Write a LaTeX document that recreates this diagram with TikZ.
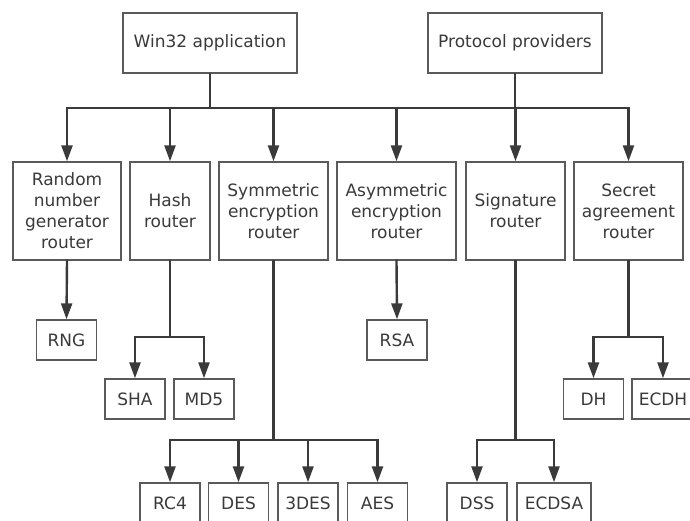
\documentclass[tikz,border=0pt]{standalone}
\usepackage{fontspec}
\setmainfont{DejaVu Sans}
\usetikzlibrary{arrows.meta}
\definecolor{boxgray}{HTML}{5A5A5A}
\definecolor{inkgray}{HTML}{3A3A3A}

\begin{document}
\begin{tikzpicture}[
  x=1pt, y=-1pt,
  box/.style={draw=boxgray, line width=1.4pt, fill=white, inner sep=0pt, align=center, text=inkgray, font=\fontsize{17}{21}\selectfont},
  source/.style={box, minimum width=174pt, minimum height=60pt},
  router/.style={box, minimum height=98pt},
  algo/.style={box, minimum width=60pt, minimum height=40pt},
  link/.style={line width=2.4pt, draw=inkgray, line cap=rect},
  arrow/.style={link, -{Triangle[length=16pt, width=11pt]}}
  ]

  \useasboundingbox (0,0) rectangle (690,520);
  \clip (0,0) rectangle (690,520);

  % Sources
  \node[source] (win32) at (210,43) {Win32 application};
  \node[source] (proto) at (515,43) {Protocol providers};

  % Routers
  \node[router, minimum width=108pt] (rngr) at (67,211) {Random\\number\\generator\\router};
  \node[router, minimum width=80pt] (hashr) at (170,211) {Hash\\router};
  \node[router, minimum width=109pt] (symr) at (273.5,211) {Symmetric\\encryption\\router};
  \node[router, minimum width=119pt] (asymr) at (396.5,211) {Asymmetric\\encryption\\router};
  \node[router, minimum width=99pt] (sigr) at (515.5,211) {Signature\\router};
  \node[router, minimum width=109pt] (secr) at (628.5,211) {Secret\\agreement\\router};

  % Algorithms
  \node[algo] (rng) at (66.5,340) {RNG};
  \node[algo] (rsa) at (397,340) {RSA};
  \node[algo] (sha) at (135,399) {SHA};
  \node[algo] (md5) at (204,399) {MD5};
  \node[algo] (dh) at (593.5,399) {DH};
  \node[algo, minimum width=62pt] (ecdh) at (663,399) {ECDH};
  \node[algo] (rc4) at (170,503) {RC4};
  \node[algo] (des) at (238.5,503) {DES};
  \node[algo] (tdes) at (308,503) {3DES};
  \node[algo] (aes) at (377.5,503) {AES};
  \node[algo] (dss) at (477,503) {DSS};
  \node[algo, minimum width=74pt] (ecdsa) at (554,503) {ECDSA};

  % Buses
  \coordinate (topbus) at (0,108);
  \coordinate (midbus) at (0,337);
  \coordinate (lowbus) at (0,440);

  % Sources to routers
  \draw[link] (win32.south) -- (win32.south |- topbus);
  \draw[link] (proto.south) -- (proto.south |- topbus);
  \draw[link] (rngr.north |- topbus) -- (secr.north |- topbus);
  \foreach \r in {rngr,hashr,symr,asymr,sigr,secr}
    \draw[arrow] (\r.north |- topbus) -- (\r.north);

  % Routers to algorithms
  \draw[arrow] (rngr.south) -- (rng.north);
  \draw[arrow] (asymr.south) -- (rsa.north);

  \draw[link] (hashr.south) -- (hashr.south |- midbus);
  \draw[link] (sha.north |- midbus) -- (md5.north |- midbus);
  \foreach \a in {sha,md5}
    \draw[arrow] (\a.north |- midbus) -- (\a.north);

  \draw[link] (secr.south) -- (secr.south |- midbus);
  \draw[link] (dh.north |- midbus) -- (ecdh.north |- midbus);
  \foreach \a in {dh,ecdh}
    \draw[arrow] (\a.north |- midbus) -- (\a.north);

  \draw[link] (symr.south) -- (symr.south |- lowbus);
  \draw[link] (rc4.north |- lowbus) -- (aes.north |- lowbus);
  \foreach \a in {rc4,des,tdes,aes}
    \draw[arrow] (\a.north |- lowbus) -- (\a.north);

  \draw[link] (sigr.south) -- (sigr.south |- lowbus);
  \draw[link] (dss.north |- lowbus) -- (ecdsa.north |- lowbus);
  \foreach \a in {dss,ecdsa}
    \draw[arrow] (\a.north |- lowbus) -- (\a.north);

\end{tikzpicture}
\end{document}
